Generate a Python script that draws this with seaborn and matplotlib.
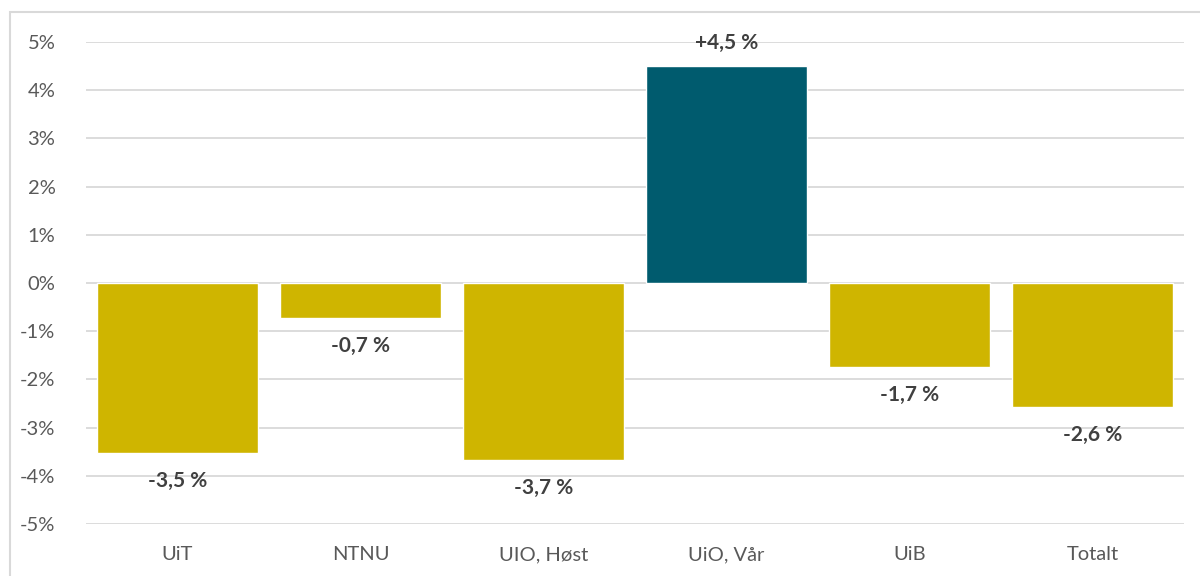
import pandas as pd
import numpy as np
import matplotlib.pyplot as plt
import seaborn as sns
from matplotlib.patches import Rectangle

# data
categories = ['UiT', 'NTNU', 'UIO, Høst', 'UiO, Vår', 'UiB', 'Totalt']
values = [-3.53, -0.73, -3.67, 4.50, -1.74, -2.57]
labels = ['-3,5 %', '-0,7 %', '-3,7 %', '+4,5 %', '-1,7 %', '-2,6 %']
yticks = [-5, -4, -3, -2, -1, 0, 1, 2, 3, 4, 5]

gold = '#CFB500'
teal = '#005B6E'

df = pd.DataFrame({'cat': categories, 'val': values})
df['sign'] = np.where(df['val'] >= 0, 'pos', 'neg')

sns.set_style('white')
plt.rcParams['font.family'] = ['Lato', 'DejaVu Sans']

fig = plt.figure(figsize=(12, 5.76), dpi=100)
ax = fig.add_axes([0.0717, 0.0903, 0.915, 0.8368])

sns.barplot(data=df, x='cat', y='val', hue='sign', palette={'pos': teal, 'neg': gold},
            order=categories, width=0.875, dodge=False, legend=False, ax=ax, saturation=1)

ax.set_ylim(-5, 5)
ax.set_xlim(-0.5, len(categories) - 0.5)
ax.set_yticks(yticks)
ax.set_yticklabels([f'{t}%' for t in yticks])
ax.yaxis.grid(True, color='#D9D9D9', linewidth=1.3)
ax.set_axisbelow(True)
for s in ax.spines.values():
    s.set_visible(False)
ax.set_xlabel('')
ax.set_ylabel('')
ax.tick_params(axis='y', length=0, pad=22, labelsize=14.5, labelcolor='#595959')
ax.tick_params(axis='x', length=0, pad=16, labelsize=14.5, labelcolor='#595959')

# verdier
for i, (v, lab) in enumerate(zip(values, labels)):
    off = 17 if v >= 0 else -20
    ax.annotate(lab, (i, v), xytext=(0, off), textcoords='offset points',
                ha='center', va='center', fontsize=15, fontweight='bold', color='#404040')

# ramme
fig.patches.append(Rectangle((10 / 1200, -0.1), 1.2, 1 - 12 / 576 + 0.1,
                             transform=fig.transFigure, fill=False,
                             edgecolor='#D9D9D9', linewidth=1.5))

fig.savefig('out.png', dpi=100)
